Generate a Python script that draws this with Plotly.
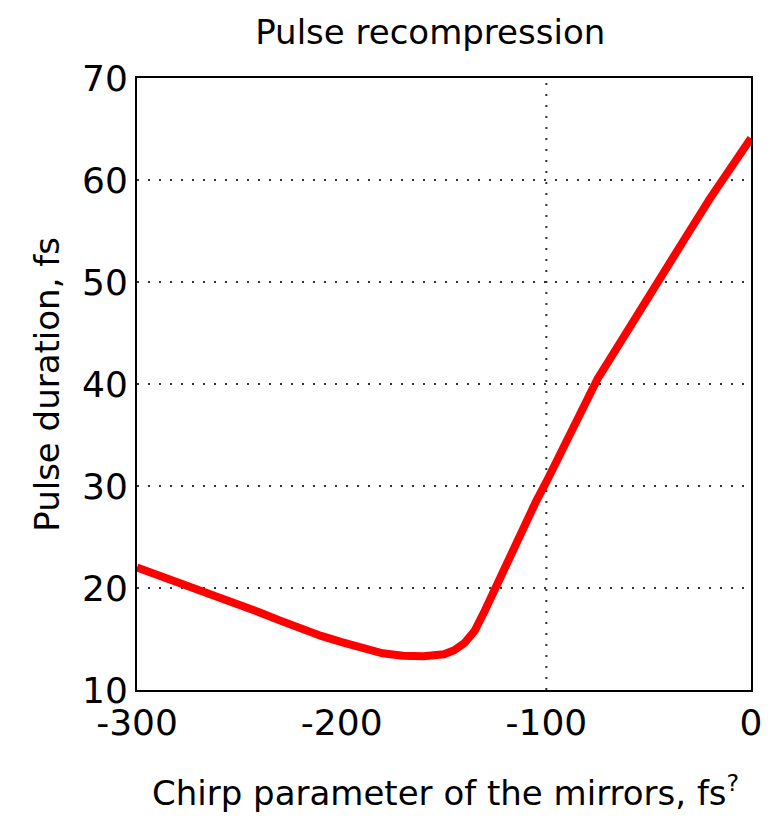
import plotly.graph_objects as go

# Chirp parameter of the mirrors (fs^2) and resulting pulse duration (fs)
chirp = [-300, -290, -280, -270, -260, -250, -240, -230, -220, -210,
         -200, -190, -180, -170, -160, -150, -145, -140, -135, -130,
         -125, -120, -115, -110, -105, -100, -95, -90, -85, -80,
         -75, -70, -60, -50, -40, -30, -20, -10, 0]
duration = [22.0, 21.3, 20.6, 19.8, 19.0, 18.3, 17.6, 16.8, 16.0, 15.3,
            14.7, 14.1, 13.6, 13.35, 13.3, 13.5, 13.9, 14.6, 15.8, 17.8,
            20.0, 22.3, 24.3, 26.5, 28.5, 30.4, 32.5, 34.6, 36.7, 38.8,
            40.5, 42.1, 45.4, 48.6, 51.8, 55.0, 58.2, 61.3, 64.1]

x_ticks = [-300, -200, -100, 0]
x_tick_text = ["-300", "-200", "-100", "0"]
y_ticks = [10, 20, 30, 40, 50, 60, 70]

FONT = "DejaVu Sans"

fig = go.Figure()
fig.add_trace(go.Scatter(
    x=chirp, y=duration, mode="lines",
    line=dict(color="#ff0000", width=8),
    showlegend=False, hoverinfo="skip",
))

# dotted vertical grid line at -100
fig.add_shape(type="line", xref="x", yref="paper", x0=-100, x1=-100, y0=0, y1=1,
              line=dict(color="#333333", width=2, dash="2px,9px"), layer="below")

fig.update_layout(
    width=778, height=838,
    margin=dict(l=137, r=27, t=78, b=148),
    paper_bgcolor="white", plot_bgcolor="white",
    font=dict(family=FONT, color="black"),
    title=dict(text="Pulse recompression", x=0.553, xanchor="center",
               y=0.962, yanchor="middle", font=dict(size=34, family=FONT, color="black")),
    xaxis=dict(range=[-300, 0], tickvals=x_ticks, ticktext=x_tick_text,
               showgrid=False, zeroline=False, showline=True, linecolor="black",
               linewidth=2, mirror=True, ticks="",
               tickfont=dict(size=36, family=FONT, color="black")),
    yaxis=dict(range=[10, 70], tickvals=y_ticks,
               showgrid=True, gridcolor="#333333", gridwidth=2, griddash="2px,9px",
               zeroline=False, showline=True, linecolor="black",
               linewidth=2, mirror=True, ticks="",
               tickfont=dict(size=36, family=FONT, color="black")),
    annotations=[
        dict(text="Chirp parameter of the mirrors, fs<sup>?</sup>",
             xref="paper", yref="paper", x=0.503, y=-0.165,
             xanchor="center", yanchor="middle", showarrow=False,
             font=dict(size=34, family=FONT, color="black")),
        dict(text="Pulse duration, fs", textangle=-90,
             xref="paper", yref="paper", x=-0.147, y=0.5,
             xanchor="center", yanchor="middle", showarrow=False,
             font=dict(size=34, family=FONT, color="black")),
    ],
)

fig.write_html("out.html")
